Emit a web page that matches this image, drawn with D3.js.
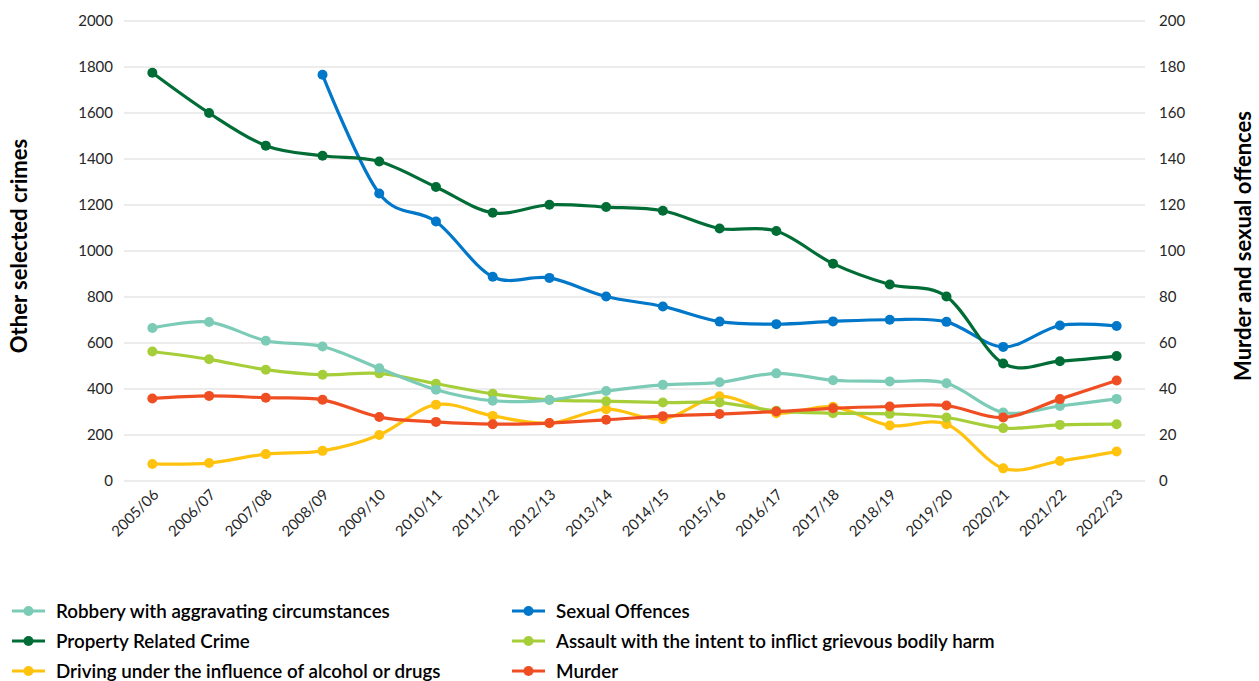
<!DOCTYPE html>
<html>
<head>
<meta charset="utf-8">
<script src="https://cdn.jsdelivr.net/npm/d3@7"></script>
<style>
  html, body { margin: 0; padding: 0; background: #fff; }
  svg { display: block; font-family: Lato, "Open Sans", sans-serif; }
</style>
</head>
<body>
<svg id="chart" width="1259" height="681"></svg>
<script>
// Financial years
const years = ["2005/06","2006/07","2007/08","2008/09","2009/10","2010/11","2011/12","2012/13","2013/14",
  "2014/15","2015/16","2016/17","2017/18","2018/19","2019/20","2020/21","2021/22","2022/23"];

// Left axis: other selected crimes
const robbery  = [665, 691, 610, 585, 490, 397, 349, 352, 391, 418, 429, 468, 438, 433, 425, 298, 326, 357];
const property = [1775, 1600, 1458, 1414, 1389, 1278, 1166, 1201, 1191, 1175, 1098, 1087, 945, 854, 802, 511, 521, 543];
const driving  = [74, 78, 117, 131, 200, 332, 283, 251, 312, 269, 368, 295, 323, 241, 247, 55, 87, 128];
const assault  = [563, 529, 484, 462, 468, 423, 379, 353, 347, 341, 341, 305, 295, 292, 276, 230, 244, 247];

// Right axis: murder and sexual offences
const sexual   = [null, null, null, 176.6, 125, 112.8, 88.8, 88.3, 80.2, 75.9, 69.3, 68.2, 69.4, 70.1, 69.2, 58.3, 67.6, 67.4];
const murder   = [35.9, 37.0, 36.2, 35.3, 27.8, 25.7, 24.7, 25.2, 26.6, 28.2, 29.1, 30.2, 31.6, 32.4, 32.8, 27.6, 35.6, 43.7];

const leftTicks  = [0, 200, 400, 600, 800, 1000, 1200, 1400, 1600, 1800, 2000];
const rightTicks = [0, 20, 40, 60, 80, 100, 120, 140, 160, 180, 200];

const series = [
  { name: "Robbery with aggravating circumstances", values: robbery, axis: "left", color: "#7ccbb6" },
  { name: "Sexual Offences", values: sexual, axis: "right", color: "#0077c8" },
  { name: "Property Related Crime", values: property, axis: "left", color: "#006d36" },
  { name: "Assault with the intent to inflict grievous bodily harm", values: assault, axis: "left", color: "#a6ce39" },
  { name: "Driving under the influence of alcohol or drugs", values: driving, axis: "left", color: "#ffc20e" },
  { name: "Murder", values: murder, axis: "right", color: "#ef4e23" }
];
// Drawing order (later on top)
const drawOrder = ["Driving under the influence of alcohol or drugs", "Assault with the intent to inflict grievous bodily harm",
  "Robbery with aggravating circumstances", "Murder", "Sexual Offences", "Property Related Crime"];

const svg = d3.select("#chart");
const plot = { left: 124, right: 1145, top: 21, bottom: 481 };

const x = d3.scalePoint().domain(years).range([plot.left, plot.right]).padding(0.5);
const yL = d3.scaleLinear().domain([0, 2000]).range([plot.bottom, plot.top]);
const yR = d3.scaleLinear().domain([0, 200]).range([plot.bottom, plot.top]);

// Gridlines
svg.append("g")
  .selectAll("line").data(leftTicks).join("line")
  .attr("x1", plot.left).attr("x2", plot.right)
  .attr("y1", d => yL(d)).attr("y2", d => yL(d))
  .attr("stroke", "#d9d9d9").attr("stroke-width", 1);

// Left axis
const axL = svg.append("g").attr("transform", `translate(${plot.left},0)`)
  .call(d3.axisLeft(yL).tickValues(leftTicks).tickSize(0).tickPadding(11).tickFormat(d3.format("d")));
axL.select(".domain").remove();
axL.selectAll("text").attr("font-size", 15).attr("fill", "#262626").attr("font-family", "Lato");

// Right axis
const axR = svg.append("g").attr("transform", `translate(${plot.right},0)`)
  .call(d3.axisRight(yR).tickValues(rightTicks).tickSize(0).tickPadding(14).tickFormat(d3.format("d")));
axR.select(".domain").remove();
axR.selectAll("text").attr("font-size", 15).attr("fill", "#262626").attr("font-family", "Lato");

// Bottom axis with rotated labels
const axB = svg.append("g").attr("transform", `translate(0,${plot.bottom})`)
  .call(d3.axisBottom(x).tickSize(0).tickPadding(0));
axB.select(".domain").remove();
axB.selectAll("text")
  .attr("font-size", 15).attr("fill", "#262626").attr("font-family", "Lato")
  .attr("text-anchor", "end")
  .attr("dy", "0.35em")
  .attr("transform", "translate(3,11) rotate(-45)");

// Axis titles
svg.append("text")
  .attr("transform", `translate(27,246) rotate(-90)`)
  .attr("text-anchor", "middle")
  .attr("font-size", 22).attr("font-weight", "bold").attr("fill", "#000")
  .text("Other selected crimes");
svg.append("text")
  .attr("transform", `translate(1251,246) rotate(-90)`)
  .attr("text-anchor", "middle")
  .attr("font-size", 22).attr("font-weight", "bold").attr("fill", "#000")
  .text("Murder and sexual offences");

// Lines and markers
const byName = new Map(series.map(s => [s.name, s]));
const linesG = svg.append("g");
drawOrder.forEach(n => {
  const s = byName.get(n);
  const ys = s.axis === "left" ? yL : yR;
  const pts = years.map((yr, i) => ({ yr, v: s.values[i] })).filter(p => p.v != null);
  const line = d3.line().x(p => x(p.yr)).y(p => ys(p.v)).curve(d3.curveCardinal.tension(0));
  const g = linesG.append("g");
  g.append("path").datum(pts)
    .attr("d", line).attr("fill", "none")
    .attr("stroke", s.color).attr("stroke-width", 3.2)
    .attr("stroke-linejoin", "round").attr("stroke-linecap", "round");
  g.selectAll("circle").data(pts).join("circle")
    .attr("cx", p => x(p.yr)).attr("cy", p => ys(p.v))
    .attr("r", 5).attr("fill", s.color);
});

// Legend: two columns, three rows
const legend = svg.append("g");
series.forEach((s, i) => {
  const col = i % 2, row = Math.floor(i / 2);
  const lx = col === 0 ? 12 : 512;
  const ly = 611 + row * 30;
  const g = legend.append("g").attr("transform", `translate(${lx},${ly})`);
  g.append("line").attr("x1", 0).attr("x2", 33).attr("y1", 0).attr("y2", 0)
    .attr("stroke", s.color).attr("stroke-width", 3.2);
  g.append("circle").attr("cx", 16.5).attr("cy", 0).attr("r", 5).attr("fill", s.color);
  g.append("text").attr("x", 44).attr("y", 0).attr("dy", "0.35em")
    .attr("font-size", 18.8).attr("font-weight", 600).attr("fill", "#000")
    .text(s.name);
});
</script>
</body>
</html>
